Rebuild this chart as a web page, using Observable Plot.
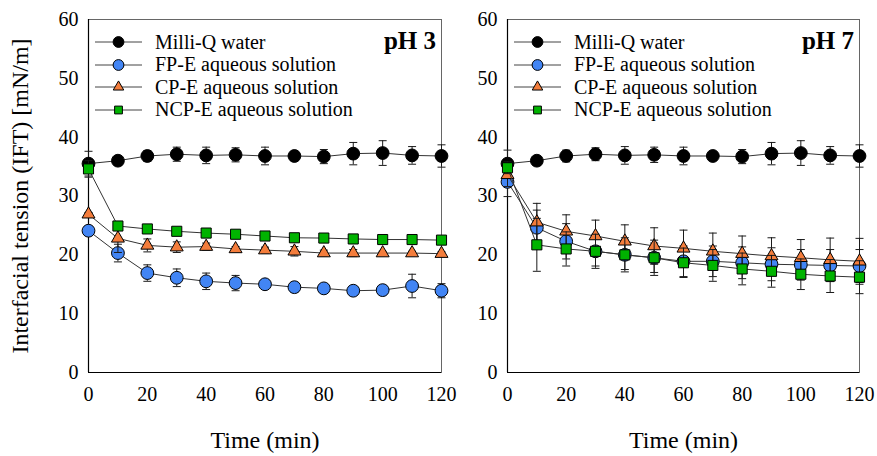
<!DOCTYPE html>
<html><head><meta charset="utf-8">
<script src="https://cdn.jsdelivr.net/npm/d3@7"></script>
<script src="https://cdn.jsdelivr.net/npm/@observablehq/plot@0.6"></script>
<style>
body{margin:0;background:#fff;}
#wrap{position:relative;width:877px;height:456px;font-family:"Liberation Serif",serif;background:#fff;overflow:hidden;}
.panel{position:absolute;top:0;}
.panel svg{overflow:visible;}
.panel svg, .panel svg text{font-family:"Liberation Serif",serif !important;font-weight:normal;}
.legend{position:absolute;top:31px;font-size:20px;color:#000;}
.row{display:flex;align-items:center;height:22.5px;white-space:nowrap;}
.row svg{margin-right:13px;flex:none;}
.ph{position:absolute;top:27px;font-weight:bold;font-size:25px;line-height:28px;}
</style></head>
<body>
<div id="wrap"></div>
<script>
// ---- data ----
const time = [0, 10, 20, 30, 40, 50, 60, 70, 80, 90, 100, 110, 120];
const xTicks = [0, 20, 40, 60, 80, 100, 120];
const yTicks = [0, 10, 20, 30, 40, 50, 60];
const seriesNames = ["Milli-Q water", "FP-E aqueous solution", "CP-E aqueous solution", "NCP-E aqueous solution"];
const panelLabels = ["pH 3", "pH 7"];

// pH 3
const water3    = [35.5, 36.0, 36.8, 37.1, 36.9, 37.0, 36.8, 36.8, 36.7, 37.2, 37.3, 36.9, 36.8];
const water3Err = [2.1, 0.4, 0.9, 1.2, 1.4, 1.2, 1.5, 0.7, 1.2, 1.9, 2.1, 1.5, 1.9];
const fp3       = [24.1, 20.3, 16.9, 16.1, 15.5, 15.2, 15.0, 14.5, 14.3, 13.9, 14.0, 14.7, 13.9];
const fp3Err    = [0.3, 1.5, 1.4, 1.5, 1.4, 1.3, 0.8, 0.8, 0.5, 0.4, 0.4, 2.0, 1.2];
const cp3       = [26.9, 22.8, 21.6, 21.3, 21.4, 21.0, 20.8, 20.6, 20.3, 20.3, 20.3, 20.3, 20.2];
const cp3Err    = [0.3, 2.4, 1.1, 0.9, 0.6, 0.4, 0.5, 0.8, 0.5, 0.6, 0.3, 0.3, 0.3];
const ncp3      = [34.6, 24.9, 24.4, 24.0, 23.7, 23.5, 23.2, 22.9, 22.85, 22.7, 22.6, 22.6, 22.5];
const ncp3Err   = [1.4, 0.4, 0.4, 0.3, 0.3, 0.3, 0.3, 0.3, 0.3, 0.3, 0.3, 0.3, 0.3];

// pH 7
const water7    = [35.5, 36.0, 36.8, 37.1, 36.9, 37.0, 36.8, 36.8, 36.7, 37.2, 37.3, 36.9, 36.8];
const water7Err = [2.3, 0.4, 1.0, 1.1, 1.5, 1.3, 1.5, 0.4, 1.2, 1.9, 2.1, 1.5, 1.9];
const fp7       = [32.4, 24.6, 22.3, 20.6, 20.0, 19.5, 18.9, 18.9, 18.65, 18.4, 18.3, 18.2, 18.1];
const fp7Err    = [2.5, 3.0, 3.0, 2.5, 2.5, 2.5, 2.6, 2.6, 2.7, 2.8, 2.6, 2.7, 2.8];
const cp7       = [33.6, 25.55, 24.0, 23.2, 22.3, 21.5, 21.1, 20.6, 20.2, 19.8, 19.5, 19.15, 18.9];
const cp7Err    = [2.0, 3.2, 2.8, 2.7, 2.8, 3.1, 3.1, 3.1, 3.0, 3.1, 3.1, 3.7, 3.9];
const ncp7      = [34.8, 21.7, 21.0, 20.6, 20.0, 19.5, 18.65, 18.2, 17.6, 17.2, 16.7, 16.4, 16.2];
const ncp7Err   = [1.0, 4.5, 2.9, 2.9, 2.9, 3.0, 2.5, 2.7, 2.7, 2.7, 2.6, 2.8, 2.8];

// ---- styles ----
const FONT = "Liberation Serif";
const styles = [
  {symbol: "circle",   r: 6.4, color: "#000000", lr: 5.4},
  {symbol: "circle",   r: 6.4, color: "#4285f4", lr: 5.4},
  {symbol: "triangle", r: 4.8, color: "#f47d3c", lr: 3.9},
  {symbol: "square",   r: 5.7, color: "#00b300", lr: 4.4}
];
const cap = {draw(ctx) { ctx.moveTo(-4, 0); ctx.lineTo(4, 0); }};

function seriesMarks(vals, errs, s) {
  const rows = time.map((t, i) => ({t, v: vals[i], lo: vals[i] - errs[i], hi: vals[i] + errs[i]}));
  return [
    Plot.ruleX(rows, {x: "t", y1: "lo", y2: "hi", stroke: "#1a1a1a", strokeWidth: 1}),
    Plot.dot(rows, {x: "t", y: "lo", symbol: cap, r: 1, fill: "none", stroke: "#1a1a1a", strokeWidth: 1}),
    Plot.dot(rows, {x: "t", y: "hi", symbol: cap, r: 1, fill: "none", stroke: "#1a1a1a", strokeWidth: 1}),
    Plot.line(rows, {x: "t", y: "v", stroke: "#333", strokeWidth: 1}),
    Plot.dot(rows, {x: "t", y: "v", symbol: s.symbol, r: s.r, fill: s.color, stroke: "#000", strokeWidth: 1})
  ];
}

function makePanel(series, opts) {
  const marks = [
    Plot.frame({stroke: "#666", strokeWidth: 1}),
    Plot.ruleX([0], {stroke: "#000", strokeWidth: 1.2}),
    Plot.ruleY([0], {stroke: "#000", strokeWidth: 1.2}),
    Plot.axisX({ticks: xTicks, tickSize: 0, tickPadding: 14, fontSize: 20, fontFamily: FONT, label: null}),
    Plot.axisY({ticks: yTicks, tickSize: 0, tickPadding: 10, fontSize: 20, fontFamily: FONT, label: null}),
    Plot.text(["Time (min)"], {frameAnchor: "bottom", dy: 68, fontSize: 24, fontFamily: FONT, textAnchor: "middle", lineAnchor: "middle"})
  ];
  if (opts.ylabel) {
    marks.push(Plot.text([opts.ylabel], {frameAnchor: "left", dx: -68, rotate: -90, fontSize: 24, fontFamily: FONT, textAnchor: "middle", lineAnchor: "middle"}));
  }
  series.forEach((d, i) => marks.push(...seriesMarks(d[0], d[1], styles[i])));
  return Plot.plot({
    width: opts.width, height: 456,
    marginLeft: opts.ml, marginRight: opts.mr, marginTop: 19, marginBottom: 84,
    x: {domain: [0, 120]},
    y: {domain: [0, 60]},
    style: {fontFamily: FONT, fontSize: "20px", background: "transparent", color: "#000", overflow: "visible"},
    marks
  });
}

function legendSvg(s) {
  const svg = d3.create("svg").attr("width", 47).attr("height", 16);
  svg.append("line").attr("x1", 0).attr("x2", 47).attr("y1", 8).attr("y2", 8).attr("stroke", "#444").attr("stroke-width", 1);
  const type = s.symbol === "circle" ? d3.symbolCircle : s.symbol === "triangle" ? d3.symbolTriangle : d3.symbolSquare;
  svg.append("path").attr("d", d3.symbol(type, s.lr * s.lr * Math.PI)()).attr("transform", "translate(23.5,8)")
    .attr("fill", s.color).attr("stroke", "#000").attr("stroke-width", 1);
  return svg.node();
}

const wrap = document.getElementById("wrap");
const panels = [
  {left: 0, width: 450, ml: 88, mr: 9, label: panelLabels[0], ylabel: "Interfacial tension (IFT) [mN/m]",
   series: [[water3, water3Err], [fp3, fp3Err], [cp3, cp3Err], [ncp3, ncp3Err]]},
  {left: 450, width: 427, ml: 57, mr: 18, label: panelLabels[1], ylabel: null,
   series: [[water7, water7Err], [fp7, fp7Err], [cp7, cp7Err], [ncp7, ncp7Err]]}
];
panels.forEach(p => {
  const div = document.createElement("div");
  div.className = "panel";
  div.style.left = p.left + "px";
  div.style.width = p.width + "px";
  div.style.height = "456px";
  div.appendChild(makePanel(p.series, {width: p.width, ml: p.ml, mr: p.mr, ylabel: p.ylabel}));
  const leg = document.createElement("div");
  leg.className = "legend";
  leg.style.left = (p.ml + 7) + "px";
  seriesNames.forEach((name, i) => {
    const row = document.createElement("div");
    row.className = "row";
    row.appendChild(legendSvg(styles[i]));
    const sp = document.createElement("span");
    sp.textContent = name;
    row.appendChild(sp);
    leg.appendChild(row);
  });
  div.appendChild(leg);
  const ph = document.createElement("div");
  ph.className = "ph";
  ph.style.right = (p.mr + 5) + "px";
  ph.textContent = p.label;
  div.appendChild(ph);
  wrap.appendChild(div);
});
</script>
</body></html>
